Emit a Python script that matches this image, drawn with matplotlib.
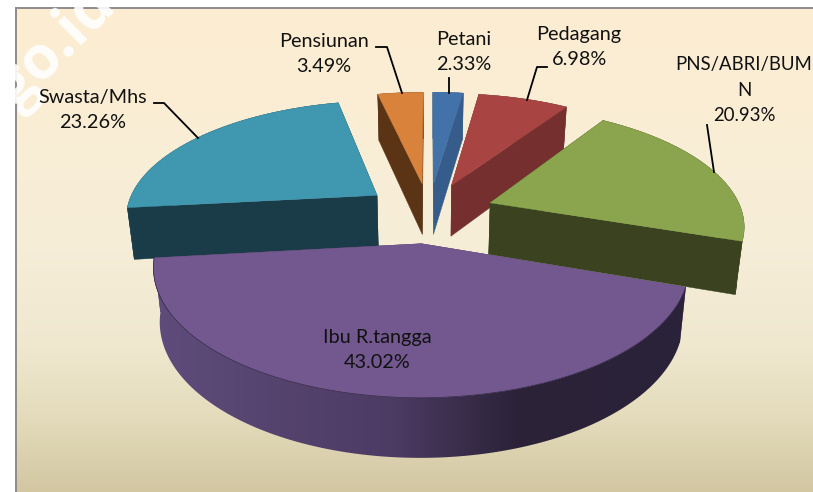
#!/usr/bin/env python3
"""3D exploded pie: occupation of respondents, drawn with a hand-made perspective."""

import numpy as np
import matplotlib
matplotlib.use("Agg")
import matplotlib.pyplot as plt
from matplotlib.colors import LinearSegmentedColormap
from matplotlib.patches import Polygon

# data, clockwise from 12 o'clock
categories = ["Petani", "Pedagang", "PNS/ABRI/BUM\nN", "Ibu R.tangga", "Swasta/Mhs", "Pensiunan"]
values = [2.33, 6.98, 20.93, 43.02, 23.26, 3.49]
value_labels = ["2.33%", "6.98%", "20.93%", "43.02%", "23.26%", "3.49%"]

top_colors = ["#4272A8", "#A84543", "#8AA54D", "#72588E", "#4097B0", "#D9823B"]
wall_colors = ["#355C8A", "#752F2E", "#3A421F", "#4A3A60", "#193C48", "#5A3415"]
paint_order = [5, 0, 1, 4, 2, 3]

# label text centres, sizes and leader lines, in image pixels
label_xy = [(464, 52), (579, 47), (744, 90), (377, 350), (93, 110), (324, 54)]
label_sizes = [14.3, 14.3, 13.4, 14.3, 14.3, 14.3]
leaders = [
    [(449, 78), (449, 93)],
    [(547, 67), (537, 67), (527, 100)],
    [(707, 125), (714, 172)],
    None,
    [(154, 103), (164, 103), (198, 138)],
    [(376, 47), (387, 47), (402, 93)],
]

# perspective of the pie plane
CX, CY = 429.0, 212.4
RX, RY = 252.0, 115.8
PERSP = 0.17
EXPLODE = 0.26
DEPTH = 52.0
FOOT_SHRINK = 0.977


def project(u, v):
    s = 1.0 / (1.0 - PERSP * v)
    return CX + RX * u * s, CY + RY * v * s


def drop(x, u, v):
    # point straight below a top-face point, on the foot of the pie
    s = 1.0 / (1.0 - PERSP * v)
    return CX + (x - CX) * FOOT_SHRINK, DEPTH * s ** 0.6


fig = plt.figure(figsize=(8.13, 4.92), dpi=100)
ax = fig.add_axes([0, 0, 1, 1])
ax.axis("off")

# panel background
bg_cmap = LinearSegmentedColormap.from_list(
    "panel",
    [(0.0, "#FDEED2"), (0.5, "#F6EDD8"), (0.7, "#EFE8CF"), (0.85, "#E3DBBB"), (1.0, "#D3C7A2")],
)
ax.imshow(np.linspace(0, 1, 256).reshape(-1, 1), cmap=bg_cmap, extent=(16, 813, 492, 8),
          aspect="auto", zorder=0)
ax.plot([16, 16, 813], [492, 8, 8], color="#8C8C8C", lw=1.4, zorder=1, solid_joinstyle="miter")

# watermark
ax.text(4, 119, ".go.id", color="white", alpha=0.9, fontsize=43, rotation=45,
        rotation_mode="anchor", family="Open Sans", fontweight="bold",
        ha="left", va="baseline", zorder=1.5)

fractions = np.array(values) / np.sum(values)
edges = np.concatenate([[0.0], np.cumsum(fractions)]) * 2 * np.pi
arc_cmap = LinearSegmentedColormap.from_list(
    "arc", [(0.0, "#5F4C7B"), (0.45, "#4C3B63"), (0.68, "#2C2339"), (1.0, "#2A2238")]
)

z = 2
for i in paint_order:
    a0, a1 = edges[i], edges[i + 1]
    mid = (a0 + a1) / 2
    off_u, off_v = EXPLODE * np.sin(mid), -EXPLODE * np.cos(mid)
    ang = np.linspace(a0, a1, 120)
    rim_u = np.sin(ang) + off_u
    rim_v = -np.cos(ang) + off_v
    rim_x, rim_y = project(rim_u, rim_v)
    foot_x, foot_dy = drop(rim_x, rim_u, rim_v)
    foot_y = rim_y + foot_dy

    ax_, ay_ = project(off_u, off_v)
    afoot_x, afoot_dy = drop(ax_, off_u, off_v)
    afoot_y = ay_ + afoot_dy

    # radial cut walls
    for k in (0, -1):
        ax.fill([ax_, rim_x[k], foot_x[k], afoot_x], [ay_, rim_y[k], foot_y[k], afoot_y],
                color=wall_colors[i], lw=0.3, zorder=z)
    # outer wall
    wall_x = np.concatenate([rim_x, foot_x[::-1]])
    wall_y = np.concatenate([rim_y, foot_y[::-1]])
    if categories[i] == "Ibu R.tangga":
        poly = Polygon(np.column_stack([wall_x, wall_y]), closed=True, transform=ax.transData,
                       facecolor="none", edgecolor="none")
        ax.add_patch(poly)
        im = ax.imshow(np.linspace(0, 1, 256).reshape(1, -1), cmap=arc_cmap,
                       extent=(wall_x.min(), wall_x.max(), wall_y.max(), wall_y.min()),
                       aspect="auto", zorder=z + 0.1)
        im.set_clip_path(poly)
    else:
        ax.fill(wall_x, wall_y, color=wall_colors[i], lw=0.3, zorder=z + 0.1)
    # top face
    ax.fill(np.concatenate([[ax_], rim_x]), np.concatenate([[ay_], rim_y]),
            color=top_colors[i], lw=0.3, zorder=z + 0.2)
    if categories[i] == "Ibu R.tangga":
        ax.plot(rim_x, rim_y, color="#2E2440", lw=0.5, zorder=z + 0.25)
    z += 1

# labels and leader lines
for name, val, (lx, ly), size, leader in zip(categories, value_labels, label_xy, label_sizes, leaders):
    ax.text(lx, ly, name + "\n" + val, ha="center", va="center", fontsize=size, color="#111111",
            family="Lato", linespacing=1.63, zorder=20)
    if leader is not None:
        ax.plot([p[0] for p in leader], [p[1] for p in leader], color="black", lw=1.3, zorder=19)

ax.set_xlim(0, 813)
ax.set_ylim(492, 0)
fig.savefig("out.png", dpi=100, facecolor="white")
plt.close(fig)
